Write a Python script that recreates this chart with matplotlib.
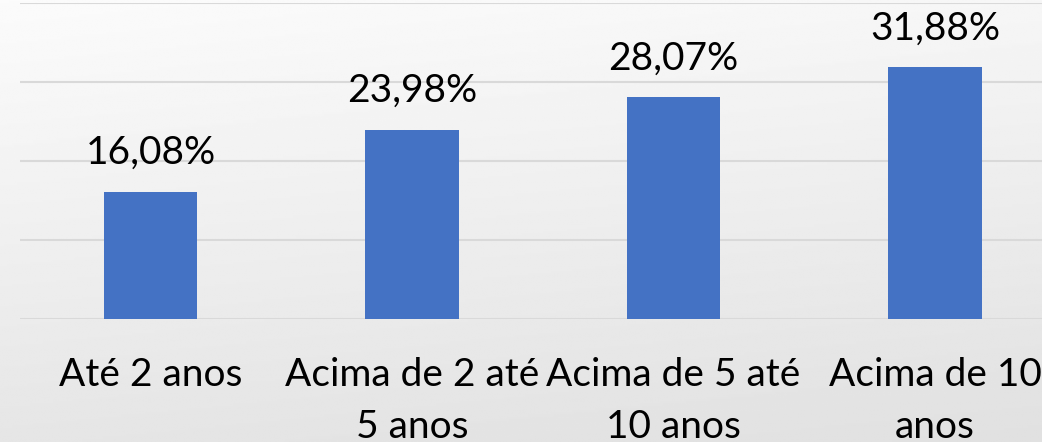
import numpy as np
import matplotlib
matplotlib.use('Agg')
import matplotlib.pyplot as plt

categories = ['Até 2 anos', 'Acima de 2 até\n5 anos', 'Acima de 5 até\n10 anos', 'Acima de 10\nanos']
values = [16.08, 23.98, 28.07, 31.88]
labels = ['16,08%', '23,98%', '28,07%', '31,88%']

plt.rcParams['font.family'] = ['Lato', 'DejaVu Sans']

fig = plt.figure(figsize=(10.42, 4.42), dpi=100)

# soft grey gradient behind everything
bg = fig.add_axes([0, 0, 1, 1], zorder=-1)
yy, xx = np.mgrid[0:1:200j, 0:1:400j]
shade = 0.985 - 0.085 * yy - 0.02 * xx
bg.imshow(shade, cmap='gray', vmin=0, vmax=1, aspect='auto', extent=[0, 1, 0, 1])
bg.axis('off')

# chart is cut off on the right, so axes run past the figure edge
ax = fig.add_axes([19.75 / 1042, 123 / 442, 1046 / 1042, 316 / 442])
ax.patch.set_alpha(0)

x = np.arange(len(categories))
bars = ax.bar(x, values, width=0.356, color='#4472C4', zorder=3)

ax.set_xlim(-0.5, len(categories) - 0.5)
ax.set_ylim(0, 40)
ax.set_yticks([0, 10, 20, 30, 40])
ax.yaxis.grid(True, color='#d9d9d9', linewidth=1.5, zorder=0)
ax.tick_params(left=False, labelleft=False, bottom=False)
for s in ax.spines.values():
    s.set_visible(False)

ax.set_xticks(x)
ax.set_xticklabels(categories, fontsize=28, color='#000000', linespacing=1.55)
ax.tick_params(axis='x', pad=24)

for b, lab in zip(bars, labels):
    ax.annotate(lab, (b.get_x() + b.get_width() / 2, b.get_height()),
                xytext=(0, 15), textcoords='offset points',
                ha='center', va='bottom', fontsize=28, color='#000000')

fig.savefig('out.png', dpi=100)
